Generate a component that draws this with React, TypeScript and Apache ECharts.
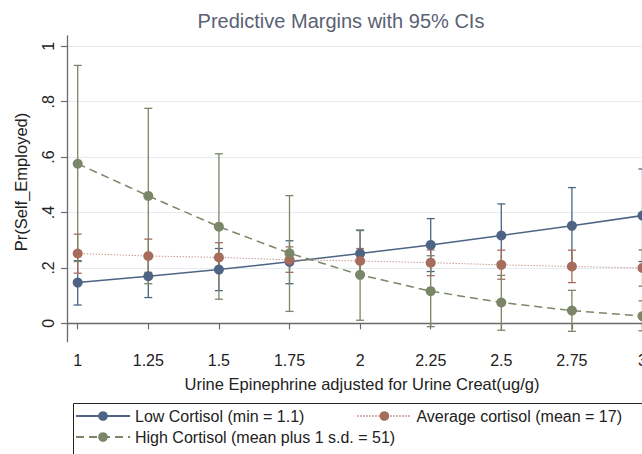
import { useEffect, useRef } from "react";
import * as echarts from "echarts";

const X_VALUES = [1, 1.25, 1.5, 1.75, 2, 2.25, 2.5, 2.75, 3];

const LOW_MARGIN = [0.147, 0.17, 0.194, 0.222, 0.252, 0.283, 0.317, 0.352, 0.389];
const LOW_CI_LO = [0.066, 0.093, 0.118, 0.143, 0.17, 0.187, 0.203, 0.214, 0.223];
const LOW_CI_HI = [0.226, 0.247, 0.27, 0.298, 0.335, 0.378, 0.431, 0.49, 0.557];

const AVG_MARGIN = [0.252, 0.243, 0.238, 0.229, 0.225, 0.219, 0.211, 0.205, 0.2];
const AVG_CI_LO = [0.181, 0.184, 0.185, 0.184, 0.18, 0.172, 0.159, 0.147, 0.134];
const AVG_CI_HI = [0.322, 0.304, 0.291, 0.276, 0.27, 0.265, 0.264, 0.264, 0.265];

const HIGH_MARGIN = [0.576, 0.46, 0.349, 0.253, 0.175, 0.116, 0.075, 0.046, 0.026];
const HIGH_CI_LO = [0.223, 0.143, 0.087, 0.043, 0.011, -0.012, -0.025, -0.029, -0.027];
const HIGH_CI_HI = [0.931, 0.776, 0.612, 0.461, 0.337, 0.244, 0.173, 0.119, 0.081];

const X_TICKS = [1, 1.25, 1.5, 1.75, 2, 2.25, 2.5, 2.75, 3];
const X_TICK_LABELS = ["1", "1.25", "1.5", "1.75", "2", "2.25", "2.5", "2.75", "3"];
const Y_TICKS = [0, 0.2, 0.4, 0.6, 0.8, 1];
const Y_TICK_LABELS = ["0", ".2", ".4", ".6", ".8", "1"];

const SERIES_NAMES = [
  "Low Cortisol (min = 1.1)",
  "Average cortisol (mean = 17)",
  "High Cortisol (mean plus 1 s.d. = 51)",
];
const TITLE = "Predictive Margins with 95% CIs";
const X_TITLE = "Urine Epinephrine adjusted for Urine Creat(ug/g)";
const Y_TITLE = "Pr(Self_Employed)";

const BLUE = "#4d6484";
const RED = "#a66c5c";
const GREEN = "#7a8667";
const FONT = "'Liberation Sans', Arial, sans-serif";

function labelFor(ticks: number[], labels: string[], v: number) {
  for (let i = 0; i < ticks.length; i++) {
    if (Math.abs(ticks[i] - v) < 1e-6) return labels[i];
  }
  return "";
}

function ciSeries(name: string, lo: number[], hi: number[], color: string) {
  return {
    type: "custom",
    name,
    z: 1,
    clip: false,
    encode: { x: 0, y: [1, 2] },
    data: X_VALUES.map((x, i) => [x, lo[i], hi[i]]),
    renderItem: (_params: any, api: any) => {
      const x = api.value(0);
      const pLo = api.coord([x, api.value(1)]);
      const pHi = api.coord([x, api.value(2)]);
      const hw = 4;
      const style = { stroke: color, lineWidth: 1.3 };
      return {
        type: "group",
        children: [
          { type: "line", shape: { x1: pLo[0], y1: pLo[1], x2: pHi[0], y2: pHi[1] }, style },
          { type: "line", shape: { x1: pHi[0] - hw, y1: pHi[1], x2: pHi[0] + hw, y2: pHi[1] }, style },
          { type: "line", shape: { x1: pLo[0] - hw, y1: pLo[1], x2: pLo[0] + hw, y2: pLo[1] }, style },
        ],
      };
    },
  };
}

function lineSeries(name: string, values: number[], color: string, lineStyle: any) {
  return {
    type: "line",
    name,
    z: 3,
    clip: false,
    data: X_VALUES.map((x, i) => [x, values[i]]),
    symbol: "circle",
    symbolSize: 10,
    showSymbol: true,
    itemStyle: { color },
    lineStyle: { color, ...lineStyle },
  };
}

export default function App() {
  const ref = useRef<HTMLDivElement>(null);
  useEffect(() => {
    const chart = echarts.init(ref.current!, null, { renderer: "svg" });
    const axisColor = "#6a6a6a";
    const legendText = { fontSize: 16, color: "#222", fontFamily: FONT };
    chart.setOption({
      animation: false,
      backgroundColor: "#ffffff",
      textStyle: { fontFamily: FONT },
      grid: { left: 67, top: 36, right: 26.8, bottom: 138.3, containLabel: false },
      xAxis: {
        type: "value",
        min: 0.9621,
        max: 3.0379,
        axisLine: { show: true, lineStyle: { color: axisColor, width: 1.3 } },
        axisTick: { show: true, length: 6, customValues: X_TICKS, lineStyle: { color: axisColor, width: 1.2 } },
        axisLabel: {
          customValues: X_TICKS,
          margin: 11,
          fontSize: 16,
          color: "#222",
          fontFamily: FONT,
          formatter: (v: number) => labelFor(X_TICKS, X_TICK_LABELS, v),
        },
        splitLine: { show: false },
      },
      yAxis: {
        type: "value",
        min: -0.0664,
        max: 1.0372,
        axisLine: { show: true, lineStyle: { color: axisColor, width: 1.3 } },
        axisTick: { show: true, length: 6, customValues: Y_TICKS, lineStyle: { color: axisColor, width: 1.2 } },
        axisLabel: {
          customValues: Y_TICKS,
          rotate: 90,
          margin: 11,
          fontSize: 16,
          color: "#222",
          fontFamily: FONT,
          formatter: (v: number) => labelFor(Y_TICKS, Y_TICK_LABELS, v),
        },
        splitLine: { show: true, lineStyle: { color: "#e4ebf2", width: 1.2 } },
      },
      legend: [
        {
          data: [SERIES_NAMES[0], SERIES_NAMES[1]],
          left: 75,
          top: 408,
          padding: 0,
          orient: "horizontal",
          itemWidth: 54,
          itemHeight: 12,
          itemGap: 52,
          selectedMode: false,
          textStyle: legendText,
        },
        {
          data: [SERIES_NAMES[2]],
          left: 75,
          top: 429,
          padding: 0,
          orient: "horizontal",
          itemWidth: 54,
          itemHeight: 12,
          selectedMode: false,
          textStyle: legendText,
        },
      ],
      graphic: [
        {
          type: "text",
          x: 341,
          y: 21,
          style: {
            text: TITLE,
            fontSize: 20,
            fontFamily: FONT,
            fill: "#5a6173",
            textAlign: "center",
            textVerticalAlign: "middle",
          },
        },
        {
          type: "text",
          x: 362,
          y: 384,
          style: {
            text: X_TITLE,
            fontSize: 16.5,
            fontFamily: FONT,
            fill: "#222",
            textAlign: "center",
            textVerticalAlign: "middle",
          },
        },
        {
          type: "text",
          x: 21,
          y: 182,
          rotation: Math.PI / 2,
          style: {
            text: Y_TITLE,
            fontSize: 16.5,
            fontFamily: FONT,
            fill: "#222",
            textAlign: "center",
            textVerticalAlign: "middle",
          },
        },
        {
          type: "rect",
          shape: { x: 73.5, y: 403.5, width: 700, height: 120 },
          style: { fill: "none", stroke: "#222", lineWidth: 1 },
          z: -1,
        },
      ],
      series: [
        ciSeries("ci-low", LOW_CI_LO, LOW_CI_HI, BLUE),
        ciSeries("ci-avg", AVG_CI_LO, AVG_CI_HI, RED),
        ciSeries("ci-high", HIGH_CI_LO, HIGH_CI_HI, GREEN),
        lineSeries(SERIES_NAMES[0], LOW_MARGIN, BLUE, { width: 1.5, type: "solid" }),
        lineSeries(SERIES_NAMES[1], AVG_MARGIN, RED, { width: 1, type: [1.2, 1.8], color: "#b9857a" }),
        lineSeries(SERIES_NAMES[2], HIGH_MARGIN, GREEN, { width: 1.5, type: [8, 5] }),
      ],
    });
    return () => chart.dispose();
  }, []);
  return (
    <div
      style={{
        position: "fixed",
        left: 0,
        top: 0,
        width: 642,
        height: 454,
        overflow: "hidden",
        background: "#fff",
      }}
    >
      <div ref={ref} style={{ width: 680, height: 480 }} />
    </div>
  );
}
